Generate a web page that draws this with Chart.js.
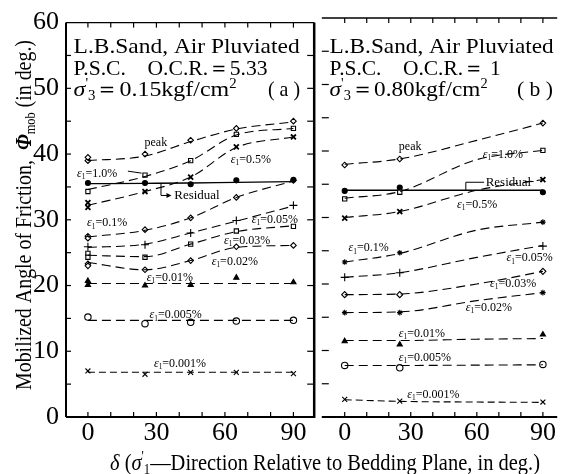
<!DOCTYPE html>
<html>
<head>
<meta charset="utf-8">
<script src="https://cdn.jsdelivr.net/npm/chart.js@4.4.1/dist/chart.umd.min.js"></script>
<style>
  body { margin: 0; background: #fff; width: 563px; height: 474px; overflow: hidden; position: relative; }
  canvas { position: absolute; top: 0; }
  #ca { left: 0; }
  #cb { left: 316px; }
  #ov { left: 0; pointer-events: none; }
</style>
</head>
<body>
<canvas id="ca" width="320" height="474"></canvas>
<canvas id="cb" width="247" height="474"></canvas>
<canvas id="ov" width="563" height="474"></canvas>
<script>
// ---- data ----
const deltaA = [0, 25, 45, 65, 90];
const deltaB = [0, 25, 90];
const fitDeltaB = [0, 25, 60, 90];
const levels = ["peak", "1.0%", "0.5%", "Residual", "0.1%", "0.05%", "0.03%", "0.02%", "0.01%", "0.005%", "0.001%"];

// panel (a): O.C.R.=5.33, measured points at deltaA
const pointsA = [
  [39.0, 40.0, 42.1, 43.9, 45.0],
  [34.3, 36.8, 39.0, 43.0, 43.9],
  [32.6, 34.3, 36.5, 41.1, 42.6],
  [35.6, 35.6, 35.4, 36.0, 36.1],
  [27.5, 28.5, 30.3, 33.4, 36.0],
  [25.9, 26.2, 28.0, 29.9, 32.2],
  [24.9, 24.3, 26.3, 28.3, 29.0],
  [23.3, 22.4, 23.8, 25.9, 26.1],
  [20.7, 20.0, 20.1, 21.2, 20.5],
  [15.2, 14.2, 14.4, 14.6, 14.7],
  [7.0, 6.5, 6.8, 6.8, 6.6]
];
// second test at delta = 0
const repeatsA = [39.5, null, 31.9, null, 27.2, null, 24.3, 23.0, 20.1, null, null];
// fitted curves at deltaA
const curvesA = [
  [39.0, 39.7, 41.9, 43.8, 44.9],
  [34.6, 36.6, 39.0, 42.9, 43.9],
  [32.2, 34.3, 36.5, 41.0, 42.6],
  [35.5, 35.55, 35.6, 35.7, 35.8],
  [27.4, 28.4, 30.3, 33.4, 35.9],
  [25.8, 26.3, 28.0, 29.8, 32.1],
  [24.6, 24.4, 26.3, 28.2, 29.1],
  [23.5, 22.4, 23.8, 25.8, 26.1],
  [20.3, 20.3, 20.3, 20.3, 20.3],
  [14.7, 14.7, 14.7, 14.7, 14.7],
  [6.8, 6.8, 6.8, 6.8, 6.8]
];

// panel (b): O.C.R.=1, measured points at deltaB
const pointsB = [
  [37.9, 38.8, 44.2],
  [32.8, 33.8, 40.1],
  [29.9, 30.9, 35.7],
  [34.0, 34.5, 33.8],
  [23.3, 24.7, 29.3],
  [21.0, 21.7, 25.7],
  [18.4, 18.4, 21.9],
  [15.7, 15.7, 18.7],
  [11.4, 10.9, 12.4],
  [7.75, 7.4, 7.9],
  [2.65, 2.4, 2.25]
];
// fitted curves at fitDeltaB
const curvesB = [
  [38.0, 38.8, 41.6, 44.2],
  [32.9, 33.9, 38.7, 40.1],
  [30.0, 30.9, 34.1, 35.7],
  [34.1, 34.1, 34.1, 34.1],
  [23.3, 24.6, 28.1, 29.3],
  [21.0, 21.7, 24.0, 25.8],
  [18.4, 18.5, 20.0, 21.9],
  [15.7, 15.8, 17.5, 18.7],
  [11.5, 11.5, 11.7, 11.8],
  [7.75, 7.75, 7.8, 7.85],
  [2.6, 2.35, 2.25, 2.2]
];

const xTickLabels = [0, 30, 60, 90];

// ---- styles ----
const SERIF = '"Liberation Serif", "DejaVu Serif", serif';
const markersA = ["rectRot", "rect", "crossRot", "circle", "rectRot", "cross", "rect", "rectRot", "triangle", "circle", "crossRot"];
const markersB = ["rectRot", "rect", "crossRot", "circle", "star", "cross", "rectRot", "star", "triangle", "circle", "crossRot"];
const filled = [false, false, false, true, false, false, false, false, true, false, false];
const radius = [2.8, 3, 3.5, 2.5, 2.8, 4, 3, 2.8, 3, 3.2, 3.5];

function segFont(s, size) {
  const sz = (s.sub || s.sup) ? size * 0.62 : size;
  return (s.it ? "italic " : "") + (s.b ? "bold " : "") + sz + "px " + SERIF;
}
function richWidth(ctx, segs, size) {
  let w = 0;
  segs.forEach(s => { ctx.font = segFont(s, size); w += ctx.measureText(s.t).width; });
  return w;
}
// draws segments with left edge at x and baseline at y, optionally squeezed to width
function drawRich(ctx, segs, x, y, size, width) {
  const w = richWidth(ctx, segs, size);
  const k = width ? width / w : 1;
  ctx.save();
  ctx.translate(x, y);
  ctx.scale(k, 1);
  ctx.textBaseline = "alphabetic";
  ctx.fillStyle = "#000";
  let cx = 0;
  segs.forEach(s => {
    ctx.font = segFont(s, size);
    const dy = s.sub ? size * 0.18 : s.sup ? -size * 0.38 : 0;
    ctx.fillText(s.t, cx, dy);
    cx += ctx.measureText(s.t).width;
  });
  ctx.restore();
}
function epsLabel(lvl) {
  return [{ t: "ε", it: true }, { t: "1", sub: true }, { t: "=" + lvl }];
}

function buildDatasets(delta, points, repeats, fitDelta, curves, markers) {
  const sets = [];
  levels.forEach((lvl, k) => {
    const solid = lvl === "Residual";
    sets.push({
      data: fitDelta.map((d, i) => ({ x: d, y: curves[k][i] })),
      borderColor: "#000",
      borderWidth: solid ? 1.3 : 1.1,
      borderDash: solid ? [] : (lvl === "0.001%" ? [7, 4] : [9, 5]),
      cubicInterpolationMode: "monotone",
      pointRadius: 0,
      fill: false
    });
    const pts = delta.map((d, i) => ({ x: d, y: points[k][i] }));
    if (repeats && repeats[k] != null) pts.push({ x: 0, y: repeats[k] });
    sets.push({
      data: pts,
      showLine: false,
      pointStyle: markers[k],
      pointRadius: radius[k],
      pointBorderColor: "#000",
      pointBackgroundColor: filled[k] ? "#000" : "#fff",
      pointBorderWidth: lvl === "0.5%" ? 1.8 : 1.1
    });
  });
  return sets;
}

function line(ctx, x1, y1, x2, y2) {
  ctx.beginPath(); ctx.moveTo(x1, y1); ctx.lineTo(x2, y2); ctx.stroke();
}

// annotation anchors (left edge, middle) in data units
const notesA = [
  ["peak", 24.8, 41.9], ["1.0%", -4.8, 37.1], ["0.5%", 62.6, 39.2], ["Residual", 37.8, 33.7],
  ["0.1%", -0.4, 29.6], ["0.05%", 71.8, 30.1], ["0.03%", 59.6, 27.0], ["0.02%", 54.2, 23.7],
  ["0.01%", 25.8, 21.3], ["0.005%", 27.0, 15.6], ["0.001%", 28.9, 8.2]
];
const notesB = [
  ["peak", 24.6, 40.7], ["1.0%", 62.7, 39.5], ["Residual", 64.0, 35.4], ["0.5%", 51.0, 32.1],
  ["0.1%", 1.7, 25.5], ["0.05%", 73.5, 24.0], ["0.03%", 66.0, 20.1], ["0.02%", 55.0, 16.5],
  ["0.01%", 24.6, 12.7], ["0.005%", 24.6, 9.0], ["0.001%", 28.4, 3.5]
];

function drawNotes(chart, notes) {
  const { ctx, scales: { x, y } } = chart;
  notes.forEach(([lvl, d, v]) => {
    const px = x.getPixelForValue(d), py = y.getPixelForValue(v) + 4;
    if (lvl === "peak") drawRich(ctx, [{ t: "peak" }], px, py, 12);
    else if (lvl === "Residual") drawRich(ctx, [{ t: "Residual" }], px, py, 13);
    else drawRich(ctx, epsLabel(lvl), px, py, 12);
  });
}

function panelPlugin(side) {
  return {
    id: "panel" + side,
    afterDraw(chart) {
      const { ctx, chartArea: a, scales: { x, y } } = chart;
      ctx.save();
      ctx.strokeStyle = "#000";
      ctx.fillStyle = "#000";
      // frame
      ctx.lineWidth = 1.3; line(ctx, a.left, a.top, a.right, a.top);
      ctx.lineWidth = 2; line(ctx, a.left, a.bottom, a.right, a.bottom);
      if (side === "a") {
        ctx.lineWidth = 2; line(ctx, a.left, a.top, a.left, a.bottom);
        ctx.lineWidth = 2.5; line(ctx, a.right, a.top, a.right, a.bottom + 1);
      }
      // ticks
      ctx.lineWidth = 1.2;
      for (let d = 0; d <= 90; d += 10) {
        const px = x.getPixelForValue(d);
        line(ctx, px, a.bottom, px, a.bottom - 5);
        line(ctx, px, a.top, px, a.top + 5);
      }
      for (let v = 5; v < 60; v += 5) {
        const py = y.getPixelForValue(v);
        if (side === "a") {
          line(ctx, a.left, py, a.left + 5, py);
          line(ctx, a.right - 7, py, a.right, py);
        } else {
          line(ctx, a.left, py, a.left + 7, py);
        }
      }
      // header
      const off = side === "a" ? 0 : -316;
      const x0 = (side === "a" ? 73.6 : 329.6) + off;
      if (side === "a") {
        drawRich(ctx, [{ t: "L.B.Sand, Air Pluviated" }], x0, 53, 22, 226);
        drawRich(ctx, [{ t: "P.S.C.    O.C.R.＝5.33" }], x0, 75, 22, 194);
        drawRich(ctx, [{ t: "σ", it: true }, { t: "'", sup: true }, { t: "3", sub: true }, { t: "＝0.15kgf/cm" }, { t: "2", sup: true }], x0, 96, 22, 163);
        drawRich(ctx, [{ t: "( a )" }], 268 + off, 96, 22, 32);
      } else {
        drawRich(ctx, [{ t: "L.B.Sand, Air Pluviated" }], x0, 53, 22, 224);
        drawRich(ctx, [{ t: "P.S.C.    O.C.R.＝ 1" }], x0, 75, 22, 171);
        drawRich(ctx, [{ t: "σ", it: true }, { t: "'", sup: true }, { t: "3", sub: true }, { t: "＝0.80kgf/cm" }, { t: "2", sup: true }], x0, 96, 22, 158);
        drawRich(ctx, [{ t: "( b )" }], 517 + off, 96, 22, 36);
      }
      // curve labels and leaders
      ctx.lineWidth = 1;
      const P = (d, v) => [x.getPixelForValue(d), y.getPixelForValue(v)];
      if (side === "a") {
        drawNotes(chart, notesA);
        let p1 = P(17.5, 37.4), p2 = P(23.5, 37.1);
        line(ctx, p1[0], p1[1], p2[0], p2[1]);
        p1 = P(32, 35.5); p2 = P(32, 33.7);
        line(ctx, p1[0], p1[1], p2[0], p2[1]);
        const p3 = P(36.6, 33.7);
        line(ctx, p2[0], p2[1], p3[0] - 3, p3[1]);
        ctx.beginPath(); ctx.moveTo(p3[0], p3[1]); ctx.lineTo(p3[0] - 5, p3[1] - 2.5); ctx.lineTo(p3[0] - 5, p3[1] + 2.5); ctx.fill();
      } else {
        drawNotes(chart, notesB);
        let p1 = P(55, 34.1), p2 = P(55, 35.3), p3 = P(63.3, 35.3);
        line(ctx, p1[0], p1[1], p2[0], p2[1]);
        line(ctx, p2[0], p2[1], p3[0], p3[1]);
        p1 = P(81.8, 35.4); p2 = P(85.8, 35.4);
        line(ctx, p1[0], p1[1], p2[0], p2[1]);
      }
      ctx.restore();
    }
  };
}

function xScale(min, max) {
  return {
    type: "linear", min, max,
    afterFit: s => { s.height = 57; },
    grid: { display: false, drawTicks: false },
    border: { display: false },
    ticks: {
      stepSize: 10, includeBounds: false, autoSkip: false, maxRotation: 0, padding: 1, color: "#000",
      font: { family: SERIF, size: 26 },
      callback: v => xTickLabels.some(t => Math.abs(t - v) < 1e-6) ? String(Math.round(v)) : ""
    }
  };
}

const common = {
  responsive: false,
  animation: false,
  events: [],
  plugins: { legend: { display: false }, tooltip: { enabled: false } }
};

new Chart(document.getElementById("ca"), {
  type: "line",
  data: { datasets: buildDatasets(deltaA, pointsA, repeatsA, deltaA, curvesA, markersA) },
  options: {
    ...common,
    layout: { padding: { top: 18, right: 4, left: 0, bottom: 0 } },
    scales: {
      x: xScale(-9.6, 99.1),
      y: {
        min: 0, max: 60,
        afterFit: s => { s.width = 66; },
        grid: { display: false, drawTicks: false },
        border: { display: false },
        ticks: { stepSize: 10, padding: 7, color: "#000", font: { family: SERIF, size: 26 } }
      }
    }
  },
  plugins: [panelPlugin("a")]
});

new Chart(document.getElementById("cb"), {
  type: "line",
  data: { datasets: buildDatasets(deltaB, pointsB, null, fitDeltaB, curvesB, markersB) },
  options: {
    ...common,
    layout: { padding: { top: 18, right: 0, left: 0, bottom: 0 } },
    scales: {
      x: xScale(-10.4, 96.5),
      y: { min: 0, max: 60, display: false }
    }
  },
  plugins: [panelPlugin("b")]
});

// axis titles across both panels
const ov = document.getElementById("ov").getContext("2d");
drawRich(ov, [
  { t: "δ", it: true }, { t: " (" }, { t: "σ", it: true }, { t: "'", sup: true }, { t: "1", sub: true },
  { t: "—Direction Relative to Bedding Plane, in deg.)" }
], 110, 470, 24, 430);
ov.save();
ov.translate(31, 390);
ov.rotate(-Math.PI / 2);
drawRich(ov, [
  { t: "Mobilized Angle of Friction,  " }, { t: "Φ", it: true, b: true }, { t: "mob", sub: true }, { t: " (in deg.)" }
], 0, 0, 23, 350);
ov.restore();
</script>
</body>
</html>
